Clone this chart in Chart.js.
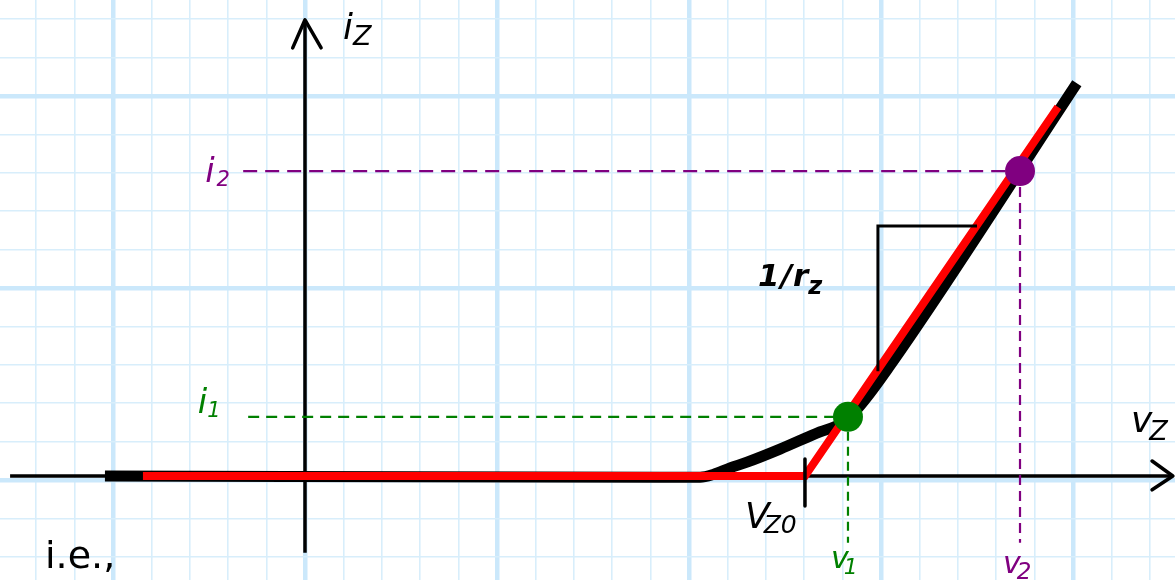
<!DOCTYPE html>
<html>
<head>
<meta charset="utf-8">
<title>Zener diode i-v characteristic</title>
<script src="https://cdn.jsdelivr.net/npm/chart.js@4.4.1/dist/chart.umd.min.js"></script>
<style>
  html, body { margin: 0; padding: 0; background: #fff; }
  #wrap { width: 1175px; height: 580px; }
</style>
</head>
<body>
<div id="wrap"><canvas id="c" width="1175" height="580"></canvas></div>
<script>
// Zener diode i-v curve, in grid units (one unit = one small square of the paper)
const curveV = [-5.21, 9.24, 10.29, 10.63, 11.07, 11.51, 12.37, 13.41, 13.93, 14.40, 15.21, 20.10];
const curveI = [0, -0.03, -0.03, 0.04, 0.21, 0.36, 0.70, 1.15, 1.35, 1.77, 2.84, 10.23];

// Piecewise-linear model: flat up to V_Z0, then slope 1/r_z
const modelV = [-4.22, 13.02, 19.61];
const modelI = [0, 0, 9.61];
const VZ0 = 13.02;

// Operating points (v1, i1) and (v2, i2)
const opV = [14.14, 18.62];
const opI = [1.54, 7.94];

// Slope triangle corners
const triV = [14.92, 14.92, 17.5];
const triI = [2.73, 6.51, 6.51];

// ---- drawing layout ----
const CELL = 38.4;                       // pixels per grid unit
const X_MIN = -305 / CELL, X_MAX = 870 / CELL;
const Y_MIN = -104 / CELL, Y_MAX = 476 / CELL;
const Y_GRID_SHIFT = -4 / CELL;          // paper lines sit slightly below the axis
const FONT = "'Comic Sans MS', 'DejaVu Sans', sans-serif";
const GREEN = '#008000', PURPLE = '#800080';
const DROP_TO = -1.74;                   // lower end of the projection lines

const pts = (xs, ys) => xs.map((v, i) => ({ x: v, y: ys[i] }));

function seg(data, color, width, order, extra) {
  return Object.assign({
    type: 'scatter', data, showLine: true, borderColor: color, borderWidth: width,
    pointRadius: 0, pointHoverRadius: 0, fill: false, order,
    borderCapStyle: 'butt', borderJoinStyle: 'round', tension: 0
  }, extra || {});
}

const datasets = [
  // axes with arrowheads
  seg([{ x: -7.68, y: 0 }, { x: 22.6, y: 0 }], '#000', 3.5, 60),
  seg([{ x: 22.06, y: 0.39 }, { x: 22.6, y: 0 }, { x: 22.06, y: -0.36 }], '#000', 3.5, 60, { borderCapStyle: 'round' }),
  seg([{ x: 0, y: -2.0 }, { x: 0, y: 11.85 }], '#000', 3.5, 60),
  seg([{ x: -0.32, y: 11.15 }, { x: 0, y: 11.88 }, { x: 0.42, y: 11.15 }], '#000', 3.5, 60, { borderCapStyle: 'round' }),
  // projection lines to the axes
  seg([{ x: -1.48, y: opI[0] }, { x: opV[0], y: opI[0] }], GREEN, 2.2, 50, { borderDash: [11, 7] }),
  seg([{ x: opV[0], y: opI[0] }, { x: opV[0], y: DROP_TO }], GREEN, 2.2, 50, { borderDash: [9, 6] }),
  seg([{ x: -1.61, y: opI[1] }, { x: opV[1], y: opI[1] }], PURPLE, 2.2, 50, { borderDash: [14, 8] }),
  seg([{ x: opV[1], y: opI[1] }, { x: opV[1], y: DROP_TO }], PURPLE, 2.2, 50, { borderDash: [10, 6] }),
  // actual diode curve
  seg(pts(curveV, curveI), '#000', 11, 40, { cubicInterpolationMode: 'monotone' }),
  // linear model
  seg(pts(modelV, modelI), '#ff0000', 8, 30, { borderJoinStyle: 'miter' }),
  // slope triangle and V_Z0 tick
  seg(pts(triV, triI), '#000', 3, 20, { borderJoinStyle: 'miter' }),
  seg([{ x: VZ0, y: 0.44 }, { x: VZ0, y: -0.78 }], '#000', 3.5, 20),
  // operating points
  { type: 'scatter', data: [{ x: opV[0], y: opI[0] }], pointRadius: 15, pointHoverRadius: 15,
    backgroundColor: GREEN, borderWidth: 0, order: 0 },
  { type: 'scatter', data: [{ x: opV[1], y: opI[1] }], pointRadius: 15, pointHoverRadius: 15,
    backgroundColor: PURPLE, borderWidth: 0, order: 0 }
];

// Text labels: main glyph plus subscript, anchored in grid units
const LABELS = [
  { x: 0.99,  y: 11.38, main: 'i',   size: 36, sub: 'Z',  subSize: 27, drop: 6, gap: 0,  color: '#000' },
  { x: -2.60, y: 7.66,  main: 'i',   size: 34, sub: '2',  subSize: 21, drop: 4, gap: 2,  color: PURPLE },
  { x: -2.79, y: 1.64,  main: 'i',   size: 34, sub: '1',  subSize: 21, drop: 4, gap: 0,  color: GREEN },
  { x: 21.51, y: 1.15,  main: 'v',   size: 36, sub: 'Z',  subSize: 27, drop: 8, gap: -3, color: '#000' },
  { x: 11.46, y: -1.35, main: 'V',   size: 36, sub: 'Z0', subSize: 25, drop: 5, gap: -6, color: '#000' },
  { x: 13.70, y: -2.40, main: 'v',   size: 30, sub: '1',  subSize: 22, drop: 6, gap: -5, color: GREEN },
  { x: 18.18, y: -2.53, main: 'v',   size: 30, sub: '2',  subSize: 23, drop: 6, gap: -4, color: PURPLE },
  { x: 11.80, y: 4.95,  main: '1/r', size: 31, sub: 'z',  subSize: 24, drop: 8, gap: -1, color: '#000', weight: 'bold', spacing: 1 },
  { x: -6.77, y: -2.40, main: 'i.e.,', size: 38, color: '#000', style: 'normal' }
];

const textPlugin = {
  id: 'diagramText',
  afterDatasetsDraw(chart) {
    const { ctx, scales: { x, y } } = chart;
    ctx.save();
    ctx.textBaseline = 'alphabetic';
    ctx.textAlign = 'left';
    for (const t of LABELS) {
      const px = x.getPixelForValue(t.x);
      const py = y.getPixelForValue(t.y);
      ctx.fillStyle = t.color;
      ctx.letterSpacing = (t.spacing || 0) + 'px';
      ctx.font = `${t.style || 'italic'} ${t.weight || 'normal'} ${t.size}px ${FONT}`;
      ctx.fillText(t.main, px, py);
      if (t.sub) {
        const w = ctx.measureText(t.main).width;
        ctx.letterSpacing = '0px';
        ctx.font = `italic ${t.weight || 'normal'} ${t.subSize}px ${FONT}`;
        ctx.fillText(t.sub, px + w + t.gap, py + t.drop);
      }
    }
    ctx.restore();
  }
};

// Graph-paper grid: every fifth line is heavier
function gridTicks(min, max, shift) {
  const out = [];
  for (let k = Math.ceil(min - shift); k <= Math.floor(max - shift); k++) {
    out.push({ value: k + shift, k });
  }
  return out;
}
const isMajor = (tick) => tick && Math.round(tick.k) % 5 === 0;

function paperScale(min, max, shift) {
  return {
    type: 'linear', min, max,
    border: { display: false },
    ticks: { display: false },
    afterBuildTicks: (scale) => { scale.ticks = gridTicks(min, max, shift); },
    grid: {
      drawTicks: false,
      color: (c) => isMajor(c.tick) ? '#cbe8fb' : '#d8eefb',
      lineWidth: (c) => isMajor(c.tick) ? 4.5 : 1.6
    }
  };
}

new Chart(document.getElementById('c'), {
  type: 'scatter',
  data: { datasets },
  options: {
    responsive: false,
    animation: false,
    devicePixelRatio: 1,
    layout: { padding: 0, autoPadding: false },
    events: [],
    plugins: { legend: { display: false }, tooltip: { enabled: false } },
    scales: {
      x: paperScale(X_MIN, X_MAX, 0),
      y: paperScale(Y_MIN, Y_MAX, Y_GRID_SHIFT)
    }
  },
  plugins: [textPlugin]
});
</script>
</body>
</html>
